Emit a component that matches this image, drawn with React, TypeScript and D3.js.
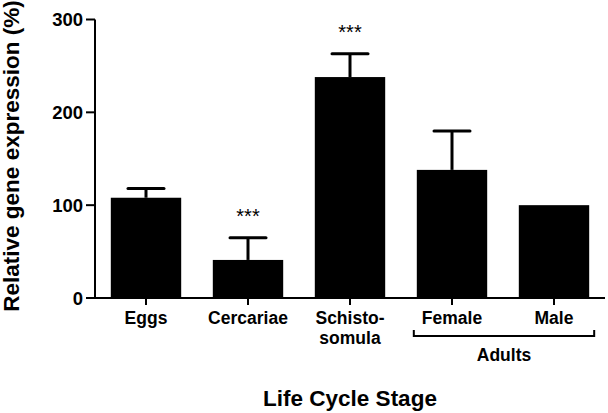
import React from 'react';
import * as d3 from 'd3';

// values
const stages = ['Eggs', 'Cercariae', 'Schisto-somula', 'Female', 'Male'];
const stageLines = [['Eggs'], ['Cercariae'], ['Schisto-', 'somula'], ['Female'], ['Male']];
const means = [108, 41, 238, 138, 100];
const errors = [10, 24, 25, 42, 0];
const stars = ['', '***', '***', '', ''];
const yTicks = [0, 100, 200, 300];
const groupLabel = 'Adults';
const groupMembers = ['Female', 'Male'];

const W = 608, H = 413;
const font = 'Arial, "Liberation Sans", Helvetica, sans-serif';

export default function App() {
  const x = d3.scaleBand().domain(stages).range([95, 605]).paddingInner(0.31).paddingOuter(0.155);
  const y = d3.scaleLinear().domain([0, 300]).range([298, 19.5]);
  const bw = x.bandwidth();
  const cx = (s: string) => (x(s) as number) + bw / 2;

  const gx0 = (x(groupMembers[0]) as number) - 3;
  const gx1 = (x(groupMembers[groupMembers.length - 1]) as number) + bw + 5;

  return (
    <svg width={W} height={H} style={{ display: 'block', position: 'absolute', left: 0, top: 0 }}
      fontFamily={font}>
      <rect width={W} height={H} fill="white" />
      {/* bars */}
      {stages.map((s, i) => (
        <g key={s}>
          <rect x={x(s)} y={y(means[i])} width={bw} height={y(0) - y(means[i])} fill="black" />
          {errors[i] > 0 && (
            <g stroke="black" strokeWidth={3}>
              <line x1={cx(s)} x2={cx(s)} y1={y(means[i])} y2={y(means[i] + errors[i])} />
              <line x1={cx(s) - 18} x2={cx(s) + 18} y1={y(means[i] + errors[i])} y2={y(means[i] + errors[i])} strokeLinecap="round" />
            </g>
          )}
          {stars[i] && (
            <text x={cx(s)} y={y(means[i] + errors[i]) - 15} textAnchor="middle" fontSize={20}>{stars[i]}</text>
          )}
        </g>
      ))}
      {/* y axis */}
      <line x1={95} x2={95} y1={y(300)} y2={y(0) + 1} stroke="black" strokeWidth={2} />
      {yTicks.map(t => (
        <g key={t}>
          <line x1={86} x2={95} y1={y(t)} y2={y(t)} stroke="black" strokeWidth={2} />
          <text x={83} y={y(t)} dy="0.36em" textAnchor="end" fontSize={18.5} fontWeight="bold">{t}</text>
        </g>
      ))}
      <text transform={`translate(19,156) rotate(-90)`} textAnchor="middle" fontSize={22.5} fontWeight="bold">
        Relative gene expression (%)
      </text>
      {/* x axis */}
      <line x1={94} x2={605} y1={298} y2={298} stroke="black" strokeWidth={2} />
      {stages.map((s, i) => (
        <g key={s}>
          <line x1={cx(s)} x2={cx(s)} y1={298} y2={305} stroke="black" strokeWidth={2} />
          {stageLines[i].map((l, j) => (
            <text key={j} x={cx(s)} y={324 + j * 20} textAnchor="middle" fontSize={17.5} fontWeight="bold">{l}</text>
          ))}
        </g>
      ))}
      {/* group bracket */}
      <path d={`M${gx0},330V336H${gx1}V330`} fill="none" stroke="black" strokeWidth={2} />
      <text x={(gx0 + gx1) / 2} y={361} textAnchor="middle" fontSize={17.5} fontWeight="bold">{groupLabel}</text>
      <text x={350} y={406} textAnchor="middle" fontSize={22.5} fontWeight="bold">Life Cycle Stage</text>
    </svg>
  );
}
